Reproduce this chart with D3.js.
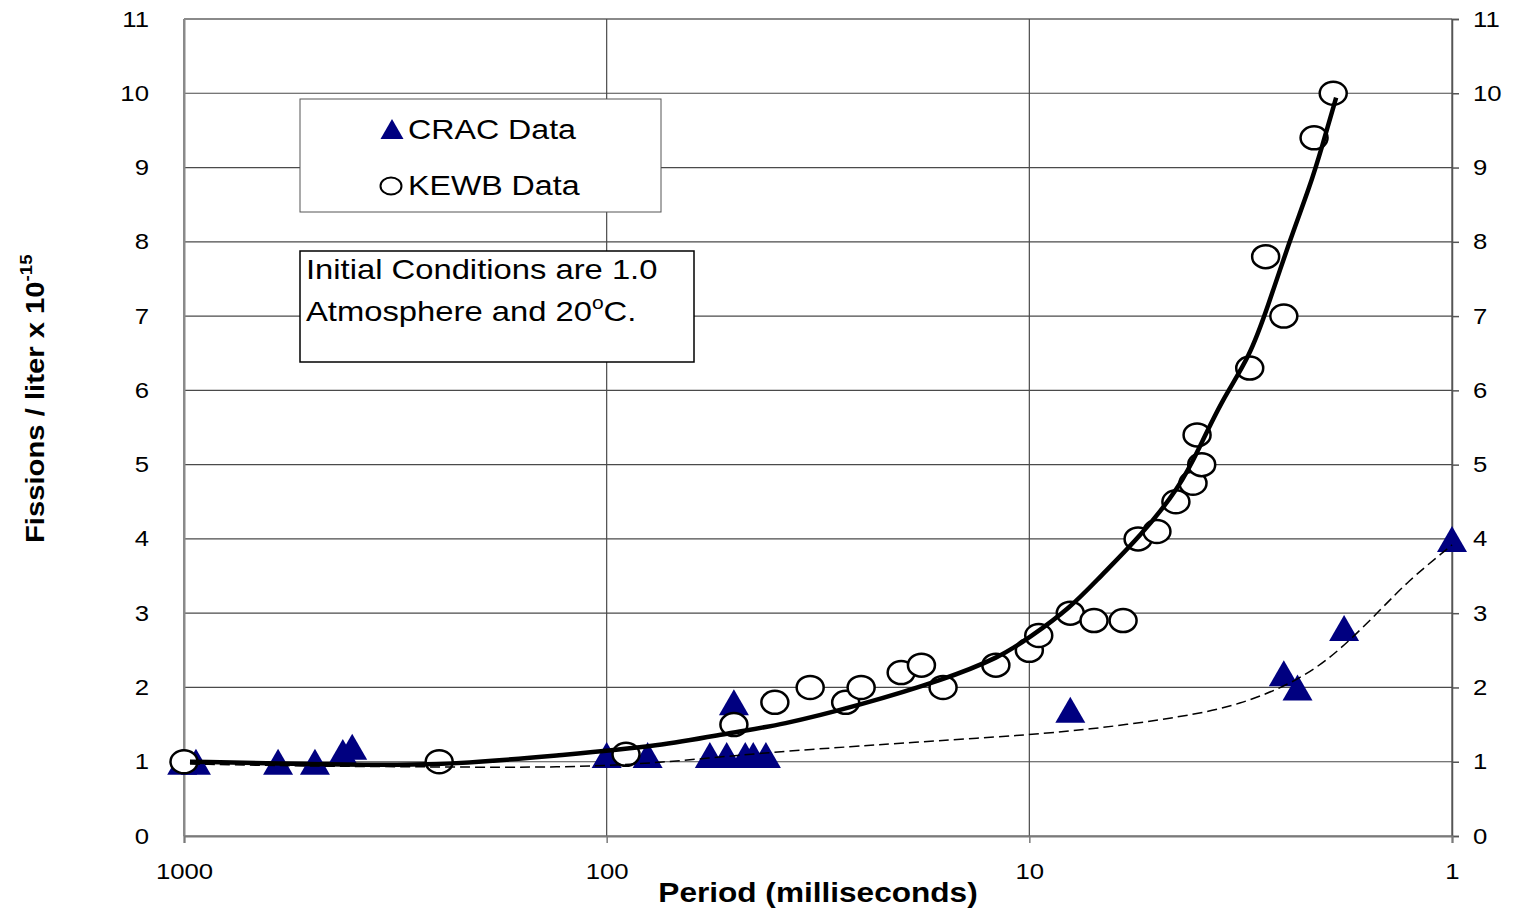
<!DOCTYPE html>
<html>
<head>
<meta charset="utf-8">
<script src="https://cdn.jsdelivr.net/npm/d3@7"></script>
<style>
  body { margin: 0; background: #fff; }
  text { font-family: Arial, "Liberation Sans", sans-serif; fill: #000; }
</style>
</head>
<body>
<div id="chart"></div>
<script>
// CRAC triangles
const cracPeriod = [1010, 937, 599, 490, 421, 400, 100, 80, 57, 52, 50, 47, 45, 42, 8.0, 2.5, 2.32, 1.8, 1.0];
const cracFissions = [1.0, 1.0, 1.0, 1.0, 1.13, 1.2, 1.09, 1.09, 1.09, 1.09, 1.8, 1.09, 1.09, 1.09, 1.7, 2.19, 2.0, 2.8, 4.0];

// KEWB circles
const kewbPeriod = [1000, 249, 90, 50, 40, 33, 27.2, 25, 20.1, 18, 16, 12, 10, 9.5, 8, 7.03, 6.0, 5.53, 4.99, 4.5, 4.1, 3.91, 4.01, 3.01, 2.76, 2.5, 2.12, 1.91];
const kewbFissions = [1.0, 1.0, 1.1, 1.5, 1.8, 2.0, 1.8, 2.0, 2.2, 2.3, 2.0, 2.3, 2.5, 2.7, 3.0, 2.9, 2.9, 4.0, 4.1, 4.5, 4.75, 5.0, 5.4, 6.3, 7.8, 7.0, 9.4, 10.0];

// fitted curves
const kewbFitPeriod = [968, 531, 248, 129, 74.8, 50, 38.9, 25.2, 16, 11.7, 10, 8, 6.81, 5.47, 4.40, 3.95, 3.50, 3.01, 2.73, 2.42, 2.17, 2.03, 1.88];
const kewbFitValue = [1.0, 0.97, 0.94, 1.09, 1.21, 1.40, 1.49, 1.76, 2.10, 2.41, 2.67, 3.07, 3.49, 4.03, 4.70, 5.24, 5.87, 6.45, 7.12, 8.02, 8.74, 9.28, 9.94];
const cracFitPeriod = [968, 531, 248, 129, 74.8, 43.4, 25.2, 20.2, 10, 6.81, 4.40, 3.18, 2.29, 1.84, 1.48, 1.26, 1.07, 1.0];
const cracFitValue = [0.97, 0.94, 0.93, 0.92, 0.98, 1.12, 1.21, 1.25, 1.36, 1.45, 1.60, 1.76, 2.10, 2.50, 3.04, 3.45, 3.78, 3.92];

const xTicks = [1000, 100, 10, 1];
const yTicks = d3.range(0, 12);

const W = 1516, H = 915;
const SX = 1.17; // text in the original is drawn wide
const margin = { top: 19, right: 64, bottom: 79, left: 184 };

const svg = d3.select('#chart').append('svg')
  .attr('width', W).attr('height', H);

const x = d3.scaleLog().domain([1000, 1]).range([margin.left, W - margin.right]);
const y = d3.scaleLinear().domain([0, 11]).range([H - margin.bottom, margin.top]);

// grid
svg.append('g').selectAll('line').data(yTicks).join('line')
  .attr('x1', x(1000)).attr('x2', x(1))
  .attr('y1', d => y(d)).attr('y2', d => y(d))
  .attr('stroke', d => d === 11 ? '#8a8a8a' : '#4a4a4a')
  .attr('stroke-width', d => d === 11 ? 2 : 1.2);
svg.append('g').selectAll('line').data(xTicks).join('line')
  .attr('x1', d => x(d)).attr('x2', d => x(d))
  .attr('y1', y(0)).attr('y2', y(11))
  .attr('stroke', d => d === 1000 ? '#8a8a8a' : '#4a4a4a')
  .attr('stroke-width', d => d === 1000 ? 2 : 1.2);

// axes
const left = svg.append('g')
  .attr('transform', `translate(${margin.left},0)`)
  .call(d3.axisLeft(y).tickValues(yTicks).tickSize(0).tickPadding(35));
left.select('.domain').attr('stroke', '#8a8a8a').attr('stroke-width', 2);
left.selectAll('text').attr('font-size', 22).attr('font-family', null)
  .attr('x', -35 / SX).attr('transform', `scale(${SX},1)`);

const right = svg.append('g')
  .attr('transform', `translate(${W - margin.right},0)`)
  .call(d3.axisRight(y).tickValues(yTicks).tickSizeOuter(0).tickSize(7).tickPadding(14));
right.select('.domain').attr('stroke', '#555').attr('stroke-width', 1.5);
right.selectAll('.tick line').attr('stroke', '#555').attr('stroke-width', 1.5);
right.selectAll('text').attr('font-size', 22).attr('font-family', null)
  .attr('x', 21 / SX).attr('transform', `scale(${SX},1)`);

const bottom = svg.append('g')
  .attr('transform', `translate(0,${y(0)})`)
  .call(d3.axisBottom(x).tickValues(xTicks).tickFormat(d3.format('d')).tickSizeOuter(0).tickSize(7).tickPadding(20));
bottom.select('.domain').attr('stroke', '#7a7a7a').attr('stroke-width', 2);
bottom.selectAll('.tick line').attr('stroke', '#7a7a7a').attr('stroke-width', 1.5);
bottom.selectAll('text').attr('font-size', 22).attr('font-family', null)
  .attr('transform', `scale(${SX},1)`);

// axis titles
svg.append('text')
  .attr('transform', `translate(818,902) scale(${SX},1)`)
  .attr('text-anchor', 'middle')
  .attr('font-size', 27).attr('font-weight', 'bold')
  .text('Period (milliseconds)');

const yLab = svg.append('text')
  .attr('transform', `translate(44,543) rotate(-90) scale(${SX},1)`)
  .attr('font-size', 25).attr('font-weight', 'bold');
yLab.append('tspan').text('Fissions / liter x 10');
yLab.append('tspan').attr('font-size', 16).attr('dy', -12).text('-15');

// markers
const tri = (w, h) => `M0,${-h / 2}L${w / 2},${h / 2}L${-w / 2},${h / 2}Z`;
const crac = cracPeriod.map((p, i) => ({ p, v: cracFissions[i] }));
const kewb = kewbPeriod.map((p, i) => ({ p, v: kewbFissions[i] }));

svg.append('g').selectAll('path').data(crac).join('path')
  .attr('transform', d => `translate(${x(d.p)},${y(d.v)})`)
  .attr('d', tri(30, 26))
  .attr('fill', '#000080');

svg.append('g').selectAll('ellipse').data(kewb).join('ellipse')
  .attr('cx', d => x(d.p)).attr('cy', d => y(d.v))
  .attr('rx', 13.5).attr('ry', 11.5)
  .attr('fill', '#fff').attr('stroke', '#000').attr('stroke-width', 2.5);

// fit lines
const line = d3.line().x(d => x(d.p)).y(d => y(d.v)).curve(d3.curveBasis);
svg.append('path')
  .datum(cracFitPeriod.map((p, i) => ({ p, v: cracFitValue[i] })))
  .attr('d', line).attr('fill', 'none')
  .attr('stroke', '#000').attr('stroke-width', 1.5).attr('stroke-dasharray', '10,5');
svg.append('path')
  .datum(kewbFitPeriod.map((p, i) => ({ p, v: kewbFitValue[i] })))
  .attr('d', line).attr('fill', 'none')
  .attr('stroke', '#000').attr('stroke-width', 4.5);

// legend
const legend = svg.append('g');
legend.append('rect')
  .attr('x', 300).attr('y', 99).attr('width', 361).attr('height', 113)
  .attr('fill', '#fff').attr('stroke', '#555').attr('stroke-width', 1);
legend.append('path')
  .attr('transform', 'translate(392,129)').attr('d', tri(23, 20))
  .attr('fill', '#000080');
legend.append('ellipse')
  .attr('cx', 391).attr('cy', 186).attr('rx', 10.5).attr('ry', 8.5)
  .attr('fill', '#fff').attr('stroke', '#000').attr('stroke-width', 2);
legend.append('text')
  .attr('transform', `translate(408,139) scale(${SX},1)`)
  .attr('font-size', 27.5).text('CRAC Data');
legend.append('text')
  .attr('transform', `translate(408,195) scale(${SX},1)`)
  .attr('font-size', 27.5).text('KEWB Data');

// note box
const note = svg.append('g');
note.append('rect')
  .attr('x', 300).attr('y', 251).attr('width', 394).attr('height', 111)
  .attr('fill', '#fff').attr('stroke', '#000').attr('stroke-width', 1.5);
note.append('text')
  .attr('transform', `translate(306,279) scale(${SX},1)`)
  .attr('font-size', 28).text('Initial Conditions are 1.0');
const l2 = note.append('text')
  .attr('transform', `translate(306,321) scale(${SX},1)`)
  .attr('font-size', 28);
l2.append('tspan').text('Atmosphere and 20');
l2.append('tspan').attr('font-size', 18).attr('dy', -12).text('o');
l2.append('tspan').attr('dy', 12).text('C.');
</script>
</body>
</html>
